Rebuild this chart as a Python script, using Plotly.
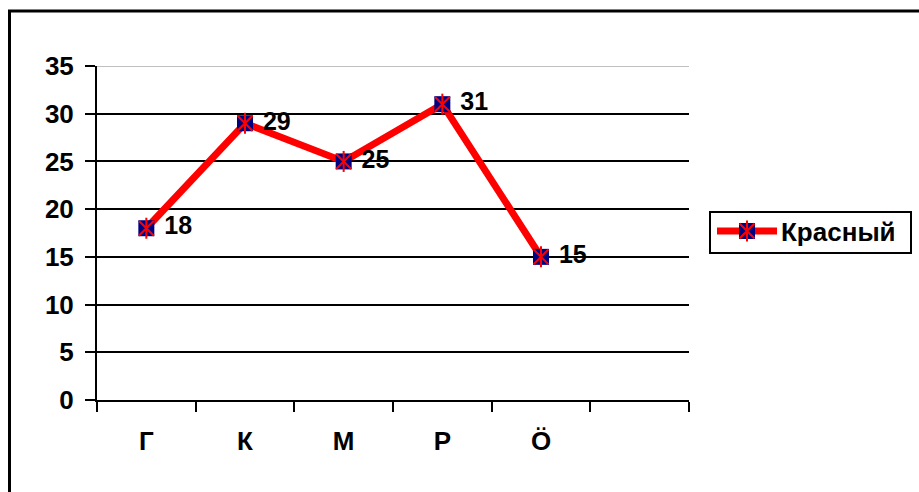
import plotly.graph_objects as go

# Data
categories = ["Г", "К", "М", "Р", "Ö"]
axis_categories = categories + [" "]
values = [18, 29, 25, 31, 15]
series_name = "Красный"

W, H = 919, 492
FONT = "Liberation Sans, Arial, sans-serif"
RED = "#FF0000"
NAVY = "#000080"

# plot-area placement in pixels
px_left, px_right = 97, 689
px_top, px_bottom = 66, 400


def fx(px):
    return px / W


def fy(py):
    return 1 - py / H


fig = go.Figure()

# main series: thick red line with navy square markers and value labels
fig.add_trace(go.Scatter(
    x=categories, y=values, mode="lines+markers+text",
    line=dict(color=RED, width=7),
    marker=dict(symbol="square", size=16, color=NAVY, line=dict(width=0)),
    text=["\u00a0" + str(v) for v in values], textposition="middle right",
    textfont=dict(family=FONT, size=25, color="black", weight="bold"),
    showlegend=False, cliponaxis=False,
))
# red star strokes on top of the squares
for sym in ["x-thin-open", "line-ns-open"]:
    fig.add_trace(go.Scatter(
        x=categories, y=values, mode="markers",
        marker=dict(symbol=sym, size=15, color=RED, line=dict(color=RED, width=2)),
        showlegend=False, hoverinfo="skip", cliponaxis=False,
    ))

# legend sample drawn on its own small hidden axes
fig.add_trace(go.Scatter(
    x=[0, 1], y=[0, 0], mode="lines", line=dict(color=RED, width=7),
    xaxis="x2", yaxis="y2", showlegend=False, hoverinfo="skip", cliponaxis=False,
))
fig.add_trace(go.Scatter(
    x=[0.5], y=[0], mode="markers",
    marker=dict(symbol="square", size=16, color=NAVY, line=dict(width=0)),
    xaxis="x2", yaxis="y2", showlegend=False, hoverinfo="skip", cliponaxis=False,
))
for sym in ["x-thin-open", "line-ns-open"]:
    fig.add_trace(go.Scatter(
        x=[0.5], y=[0], mode="markers",
        marker=dict(symbol=sym, size=15, color=RED, line=dict(color=RED, width=2)),
        xaxis="x2", yaxis="y2", showlegend=False, hoverinfo="skip", cliponaxis=False,
    ))

fig.update_layout(
    width=W, height=H,
    margin=dict(l=0, r=0, t=0, b=0),
    paper_bgcolor="white", plot_bgcolor="white",
    font=dict(family=FONT, color="black"),
    xaxis=dict(
        domain=[fx(px_left), fx(px_right)],
        type="category", categoryorder="array", categoryarray=axis_categories,
        range=[-0.5, 5.5], tickson="boundaries",
        showgrid=False, showline=True, linecolor="black", linewidth=2,
        ticks="outside", ticklen=10, tickwidth=2, tickcolor="black",
        tickfont=dict(family=FONT, size=26, color="black", weight="bold"),
        ticklabelstandoff=17, automargin=False, fixedrange=True,
    ),
    yaxis=dict(
        domain=[fy(px_bottom), fy(px_top)],
        range=[0, 35], tickvals=[0, 5, 10, 15, 20, 25, 30, 35],
        showgrid=True, gridcolor="black", gridwidth=2,
        zeroline=False, showline=True, linecolor="black", linewidth=2,
        ticks="outside", ticklen=10, tickwidth=2, tickcolor="black",
        tickfont=dict(family=FONT, size=26, color="black", weight="bold"),
        ticklabelstandoff=6, automargin=False, fixedrange=True,
    ),
    xaxis2=dict(domain=[fx(717), fx(777)], range=[0, 1], visible=False, fixedrange=True),
    yaxis2=dict(domain=[fy(241), fy(221)], range=[-1, 1], visible=False, fixedrange=True),
    annotations=[dict(
        xref="paper", yref="paper", x=fx(779), y=fy(232),
        xanchor="left", yanchor="middle", showarrow=False,
        text="<b>" + series_name + "</b>",
        font=dict(family=FONT, size=26, color="black"),
    )],
    shapes=[
        # light top edge of the plot area
        dict(type="line", xref="x domain", yref="y", x0=0, x1=1, y0=35, y1=35,
             line=dict(color="#C0C0C0", width=2), layer="above"),
        # legend box
        dict(type="rect", xref="paper", yref="paper",
             x0=fx(710), x1=fx(911), y0=fy(253), y1=fy(212),
             line=dict(color="black", width=2), fillcolor="rgba(0,0,0,0)", layer="below"),
        # chart frame
        dict(type="rect", xref="paper", yref="paper",
             x0=fx(9.5), x1=1.05, y0=-0.05, y1=fy(11),
             line=dict(color="black", width=3), fillcolor="rgba(0,0,0,0)", layer="below"),
    ],
)

fig.write_html("out.html")
